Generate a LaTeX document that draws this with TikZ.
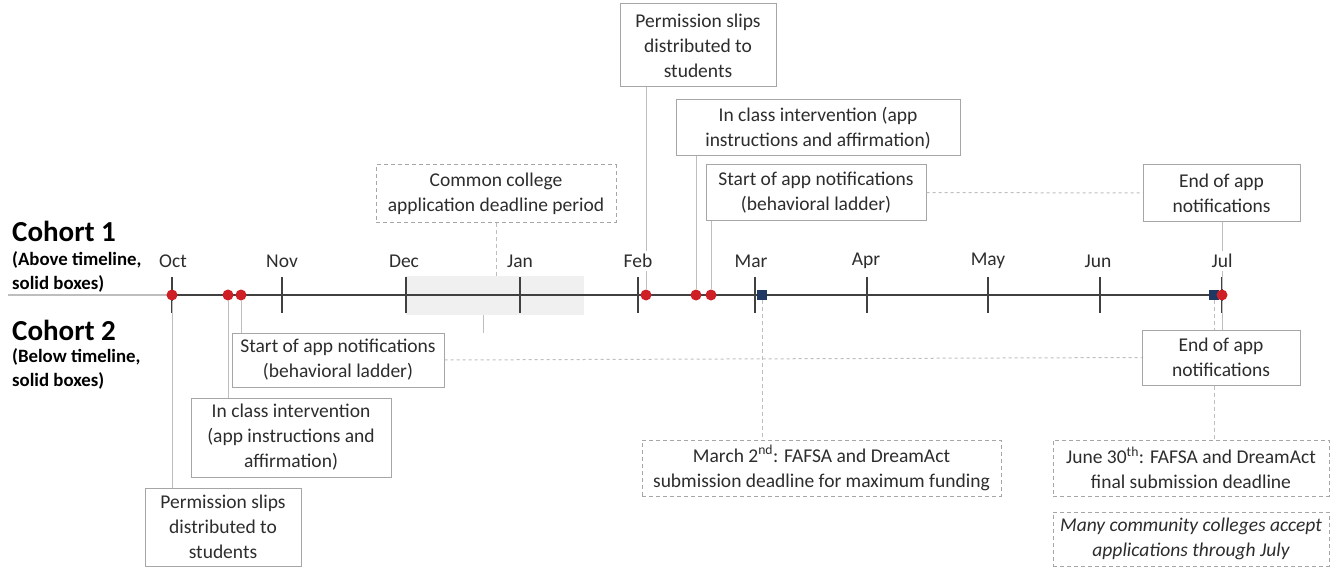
\documentclass[tikz,border=0pt]{standalone}
\usepackage{fontspec}
\setmainfont{Carlito}
\usepackage{xcolor}
\usepackage{tikz}
\usetikzlibrary{positioning}

\definecolor{boxgrey}{RGB}{166,166,166}
\definecolor{linegrey}{RGB}{190,190,190}
\definecolor{axisgrey}{RGB}{64,64,64}
\definecolor{dotred}{RGB}{206,30,38}
\definecolor{marknavy}{RGB}{31,56,100}
\definecolor{inkgrey}{RGB}{45,45,45}
\definecolor{shadegrey}{RGB}{240,240,240}

\begin{document}
\begin{tikzpicture}[x=1pt, y=-1pt,
  font=\fontsize{19.5pt}{25pt}\selectfont,
  event/.style={rectangle, draw=boxgrey, line width=1pt, fill=white, align=center, text=inkgrey, inner sep=0pt},
  deadline/.style={event, dash pattern=on 4pt off 3pt},
  month/.style={fill=white, text=inkgrey, inner xsep=1pt, inner ysep=3pt},
  reddot/.style={circle, fill=dotred, minimum size=11pt, inner sep=0pt},
  navysq/.style={rectangle, fill=marknavy, minimum size=10pt, inner sep=0pt},
  conn/.style={draw=linegrey, line width=1pt},
  dashconn/.style={conn, dash pattern=on 4pt off 3pt},
  dotconn/.style={conn, dash pattern=on 3pt off 3pt},
  tick/.style={draw=axisgrey, line width=2pt},
  cohort/.style={font=\fontsize{29pt}{32pt}\selectfont\bfseries, anchor=west, inner sep=0pt},
  cohortnote/.style={font=\fontsize{18.8pt}{24pt}\selectfont\bfseries, align=left, anchor=west, inner sep=0pt}]

\useasboundingbox (0,0) rectangle (1334,567);

\node (coh1) [cohort] at (12,231) {Cohort 1};
\node (coh1note) [cohortnote] at (12,272) {(Above timeline,\\solid boxes)};
\node (coh2) [cohort] at (12,330) {Cohort 2};
\node (coh2note) [cohortnote] at (12,369) {(Below timeline,\\solid boxes)};

\node (season) [rectangle, fill=shadegrey, minimum width=178pt, minimum height=39pt, inner sep=0pt] at (495,295.5) {};

\coordinate (tlwest) at (8,295);
\coordinate (tloct) at (172,295);
\coordinate (tleast) at (1222,295);
\draw[draw=linegrey, line width=2pt] (tlwest) -- (tloct);
\draw[draw=axisgrey, line width=2pt] (tloct) -- (tleast);
\foreach \x in {172,282,406,520,638,755,867,988,1100,1222}
  \draw[tick] (\x,277) -- (\x,313);

\node (sqmar) [navysq] at (762,295) {};
\node (sqjul) [navysq] at (1214,295) {};
\node (p2) [reddot] at (172,295) {};
\node (i2) [reddot] at (228,295) {};
\node (s2) [reddot] at (241,295) {};
\node (p1) [reddot] at (646,295) {};
\node (i1) [reddot] at (696,295) {};
\node (s1) [reddot] at (711,295) {};
\node (ejul) [reddot] at (1222,295) {};

\node (perm1) [event, minimum width=156pt, minimum height=83pt] at (698,45.5) {Permission slips\\distributed to\\students};
\node (class1) [event, minimum width=284pt, minimum height=56pt] at (818,128) {In class intervention (app\\instructions and affirmation)};
\node (start1) [event, minimum width=220pt, minimum height=55pt] at (816,192.5) {Start of app notifications\\(behavioral ladder)};
\node (end1) [event, minimum width=157pt, minimum height=56pt] at (1221.5,193) {End of app\\notifications};
\node (common) [deadline, minimum width=240pt, minimum height=57pt] at (496,193.5) {Common college\\application deadline period};

\node (start2) [event, minimum width=212pt, minimum height=54pt] at (338,360) {Start of app notifications\\(behavioral ladder)};
\node (class2) [event, minimum width=200pt, minimum height=79pt] at (291,437.5) {In class intervention\\(app instructions and\\affirmation)};
\node (perm2) [event, minimum width=156pt, minimum height=78pt] at (223,527) {Permission slips\\distributed to\\students};
\node (end2) [event, minimum width=158pt, minimum height=55pt] at (1221,357.5) {End of app\\notifications};
\node (march) [deadline, minimum width=359pt, minimum height=56pt] at (821.5,468) {March 2\textsuperscript{nd}: FAFSA and DreamAct\\submission deadline for maximum funding};
\node (june) [deadline, minimum width=276pt, minimum height=56pt] at (1191,468) {June 30\textsuperscript{th}: FAFSA and DreamAct\\final submission deadline};
\node (many) [deadline, minimum width=276pt, minimum height=54pt, font=\fontsize{19.5pt}{25pt}\selectfont\itshape] at (1191,539) {Many community colleges accept\\applications through July};

\coordinate (stub) at (483,333);

\draw[conn] (p1) -- (perm1.south -| p1);
\draw[conn] (i1) -- (class1.south -| i1);
\draw[conn] (s1) -- (start1.south -| s1);
\draw[conn] (ejul) -- (end1.south -| ejul);
\draw[conn] (ejul) -- (end2.north -| ejul);
\draw[conn] (p2) -- (perm2.north -| p2);
\draw[conn] (i2) -- (class2.north -| i2);
\draw[conn] (s2) -- (start2.north -| s2);
\draw[dotconn] (start1.east) -- (end1.west);
\draw[dotconn] (start2.east) -- (end2.west);
\draw[dashconn] (common.south) -- (common.south |- season.north);
\draw[conn] (season.south -| stub) -- (stub);
\draw[dashconn] (sqmar) -- (march.north -| sqmar);
\draw[dashconn] (sqjul) -- (end2.north -| sqjul);
\draw[dashconn] (end2.south -| sqjul) -- (june.north -| sqjul);

\foreach \m/\x/\lab in {oct/173/Oct, nov/282/Nov, dec/404/Dec, jan/520/Jan, feb/638/Feb, mar/751/Mar, apr/866/Apr, may/988/May, jun/1098/Jun, jul/1222/Jul}
  \node (\m) [month] at (\x,261) {\lab};
\end{tikzpicture}
\end{document}
